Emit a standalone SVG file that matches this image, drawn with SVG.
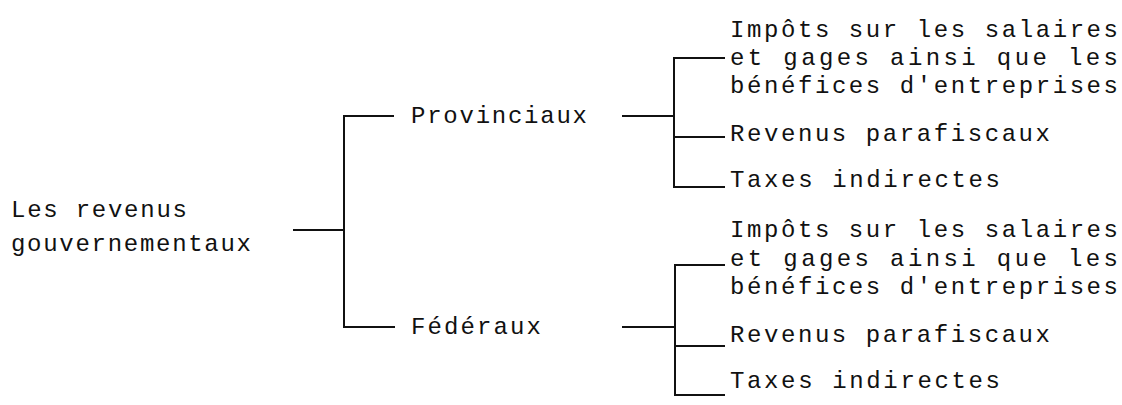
<svg xmlns="http://www.w3.org/2000/svg" width="1122" height="405" viewBox="0 0 1122 405">
<style>
text{font-family:"Liberation Mono","DejaVu Sans Mono",monospace;font-size:24px;fill:#111}
.c line,.c polyline{stroke:#111;stroke-width:2;fill:none}
</style>
<rect width="1122" height="405" fill="#fff"/>
<g id="root"><text x="11" y="217" textLength="176" lengthAdjust="spacing">Les revenus</text><text x="11" y="251" textLength="240" lengthAdjust="spacing">gouvernementaux</text></g>
<g id="prov"><text x="411" y="123" textLength="176" lengthAdjust="spacing">Provinciaux</text></g>
<g id="fed"><text x="411" y="334" textLength="130" lengthAdjust="spacing">Fédéraux</text></g>
<g id="p1"><text x="730" y="37" textLength="388" lengthAdjust="spacing">Impôts sur les salaires</text><text x="730" y="65" textLength="388" lengthAdjust="spacing">et gages ainsi que les</text><text x="730" y="93" textLength="388" lengthAdjust="spacing">bénéfices d'entreprises</text></g>
<g id="p2"><text x="730" y="141" textLength="320" lengthAdjust="spacing">Revenus parafiscaux</text></g>
<g id="p3"><text x="730" y="187" textLength="270" lengthAdjust="spacing">Taxes indirectes</text></g>
<g id="f1"><text x="730" y="237" textLength="388" lengthAdjust="spacing">Impôts sur les salaires</text><text x="730" y="266" textLength="388" lengthAdjust="spacing">et gages ainsi que les</text><text x="730" y="294" textLength="388" lengthAdjust="spacing">bénéfices d'entreprises</text></g>
<g id="f2"><text x="730" y="342" textLength="320" lengthAdjust="spacing">Revenus parafiscaux</text></g>
<g id="f3"><text x="730" y="388" textLength="270" lengthAdjust="spacing">Taxes indirectes</text></g>
<g class="c" id="connectors">
<line x1="293" y1="230" x2="344" y2="230"/>
<polyline points="394,116 344,116 344,327 395,327"/>
<line x1="622" y1="116" x2="674" y2="116"/>
<polyline points="725,58 674,58 674,187 725,187"/>
<line x1="674" y1="137" x2="725" y2="137"/>
<line x1="622" y1="327" x2="675" y2="327"/>
<polyline points="725,265 675,265 675,395 725,395"/>
<line x1="675" y1="346" x2="725" y2="346"/>
</g>
</svg>
